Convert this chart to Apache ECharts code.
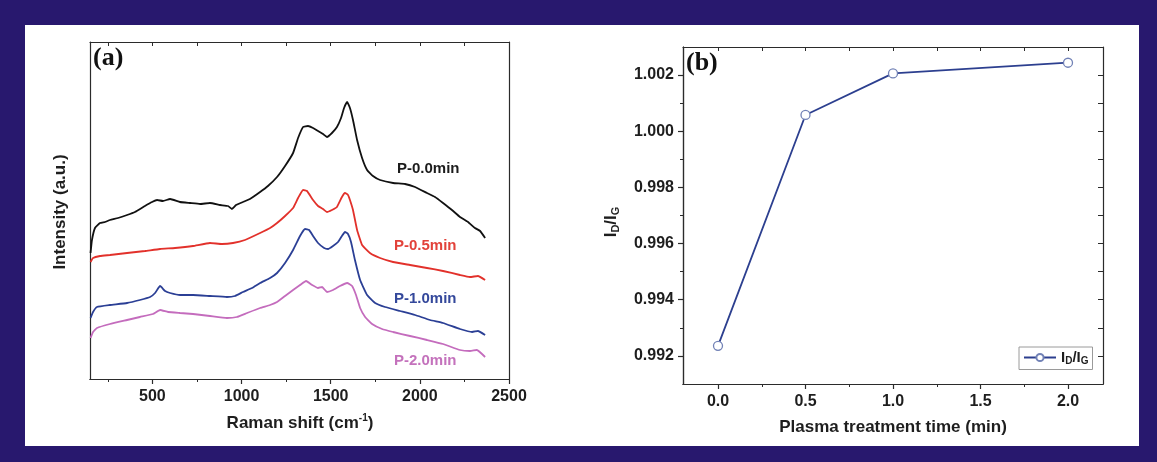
<!DOCTYPE html>
<html>
<head>
<meta charset="utf-8">
<script src="https://cdn.jsdelivr.net/npm/echarts@6/dist/echarts.min.js"></script>
<style>
  html, body { margin: 0; padding: 0; background: #28186e; }
  #chart { width: 1157px; height: 462px; }
</style>
</head>
<body>
<div id="chart"></div>
<script>
// ---- (a) Raman spectra: shift (cm-1) and intensity (a.u., stacked offsets) ----
const shift00 = [153,161,178,206,234,262,307,358,402,458,498,526,559,599,655,711,767,823,879,924,946,969,1008,1047,1104,1148,1199,1244,1289,1317,1345,1373,1401,1429,1457,1479,1507,1535,1558,1575,1592,1608,1625,1648,1676,1704,1737,1777,1850,1917,1973,2040,2085,2130,2180,2225,2270,2309,2338,2366];
const inten00 = [126,139,151,156,157,159,161,164,167,173,177,179,178,180,177,176,175,176,174,173,170,174,177,180,187,193,202,213,226,241,252,253,251,248,245,242,246,252,261,271,277,271,259,239,221,209,203,199,196,195,192,186,182,176,169,162,157,151,148,141];

const shift05 = [153,167,206,262,358,458,543,627,728,823,890,952,1019,1104,1160,1199,1244,1289,1317,1345,1367,1401,1429,1457,1479,1507,1535,1563,1580,1597,1608,1625,1648,1676,1720,1777,1850,1945,2040,2130,2225,2281,2326,2366];
const inten05 = [117,121,123,124,126,128,130,131,133,136,135,136,139,146,151,156,163,171,181,189,188,179,173,170,167,169,172,182,186,184,179,169,149,134,126,121,117,114,111,108,104,102,103,99];

const shift10 = [153,167,189,262,358,430,487,515,543,571,599,655,728,823,918,963,1008,1059,1104,1160,1199,1244,1289,1328,1356,1379,1401,1429,1463,1485,1513,1541,1563,1580,1597,1614,1636,1665,1704,1749,1805,1889,1973,2057,2130,2225,2293,2326,2366];
const inten10 = [61,67,72,74,76,79,82,86,93,88,86,84,84,83,82,83,87,91,96,101,106,116,129,143,150,149,143,136,131,130,133,137,143,147,145,137,119,99,84,76,72,68,64,59,56,50,47,48,44];

const shift20 = [153,167,189,262,358,430,503,543,588,655,728,823,918,974,1031,1104,1160,1199,1244,1289,1328,1362,1396,1429,1452,1479,1513,1552,1592,1620,1642,1665,1693,1732,1788,1850,1945,2040,2130,2225,2281,2320,2366];
const inten20 = [41,47,51,55,59,62,65,69,67,66,65,63,61,62,66,71,74,77,83,89,94,98,94,91,92,87,89,93,96,93,84,71,62,55,50,47,43,39,35,29,28,29,22];

const spectraNames = ['P-0.0min', 'P-0.5min', 'P-1.0min', 'P-2.0min'];
const ramanMajorTicks = [500, 1000, 1500, 2000, 2500];
const ramanMinorTicks = [250, 750, 1250, 1750, 2250];

// ---- (b) ID/IG ratio versus plasma treatment time ----
const treatTime = [0.0, 0.5, 1.0, 2.0];
const ratioDG = [0.99236, 1.00058, 1.00206, 1.00244];
const timeMajorTicks = [0, 0.5, 1.0, 1.5, 2.0];
const timeMinorTicks = [0.25, 0.75, 1.25, 1.75];
const ratioMajorTicks = [0.992, 0.994, 0.996, 0.998, 1.000, 1.002];
const ratioMinorTicks = [0.993, 0.995, 0.997, 0.999, 1.001];

const SANS = '"Liberation Sans", Arial, Helvetica, sans-serif';
const SERIF = '"Liberation Serif", "Times New Roman", serif';
const AXIS_COLOR = '#2b2b2b';
const lineColors = ['#111111', '#e2312b', '#2b3f95', '#c46cbd'];
const labelColors = ['#1c1c1c', '#e2423a', '#34489b', '#c472bc'];

function zip(xs, ys) { return xs.map((x, i) => [x, ys[i]]); }

const axisLineStyle = { show: true, onZero: false, lineStyle: { color: AXIS_COLOR, width: 1.2 } };
const labelStyle = { color: '#1e1e1e', fontFamily: SANS, fontWeight: 'bold', fontSize: 16 };

function tickAxis(extra) {
  return Object.assign({
    type: 'value',
    axisLine: axisLineStyle,
    splitLine: { show: false },
    axisLabel: { show: false },
    axisTick: { show: false }
  }, extra);
}

const chart = echarts.init(document.getElementById('chart'), null, { renderer: 'canvas' });

const spectraSeries = [
  zip(shift00, inten00), zip(shift05, inten05), zip(shift10, inten10), zip(shift20, inten20)
].map((d, i) => ({
  name: spectraNames[i],
  type: 'line',
  xAxisIndex: 0, yAxisIndex: 0,
  data: d,
  showSymbol: false,
  smooth: 0.12,
  lineStyle: { color: lineColors[i], width: 1.8 },
  silent: true,
  z: 5 - i
}));

const option = {
  backgroundColor: '#28186e',
  animation: false,
  grid: [
    { left: 90, top: 42, width: 419, height: 337 },
    { left: 683, top: 47, width: 420, height: 337 }
  ],
  xAxis: [
    // (a) bottom: labels + major ticks
    tickAxis({ gridIndex: 0, position: 'bottom', min: 150, max: 2500,
      axisLabel: Object.assign({ show: true, customValues: ramanMajorTicks, margin: 10,
        formatter: v => String(Math.round(v)) }, labelStyle),
      axisTick: { show: true, customValues: ramanMajorTicks, length: 5, lineStyle: { color: AXIS_COLOR, width: 1.2 } } }),
    // (a) bottom minor ticks
    tickAxis({ gridIndex: 0, position: 'bottom', min: 150, max: 2500,
      axisTick: { show: true, customValues: ramanMinorTicks, length: 3, lineStyle: { color: AXIS_COLOR, width: 1 } } }),
    // (a) top mirror
    tickAxis({ gridIndex: 0, position: 'top', min: 150, max: 2500,
      axisTick: { show: true, inside: true, customValues: ramanMajorTicks.concat(ramanMinorTicks), length: 4, lineStyle: { color: AXIS_COLOR, width: 1 } } }),
    // (b) bottom
    tickAxis({ gridIndex: 1, position: 'bottom', min: -0.2, max: 2.2,
      axisLabel: Object.assign({ show: true, customValues: timeMajorTicks, margin: 10,
        formatter: v => Number(v).toFixed(1) }, labelStyle),
      axisTick: { show: true, customValues: timeMajorTicks, length: 5, lineStyle: { color: AXIS_COLOR, width: 1.2 } } }),
    tickAxis({ gridIndex: 1, position: 'bottom', min: -0.2, max: 2.2,
      axisTick: { show: true, customValues: timeMinorTicks, length: 3, lineStyle: { color: AXIS_COLOR, width: 1 } } }),
    tickAxis({ gridIndex: 1, position: 'top', min: -0.2, max: 2.2,
      axisTick: { show: true, inside: true, customValues: timeMajorTicks.concat(timeMinorTicks), length: 4, lineStyle: { color: AXIS_COLOR, width: 1 } } })
  ],
  yAxis: [
    tickAxis({ gridIndex: 0, position: 'left', min: 0, max: 337 }),
    tickAxis({ gridIndex: 0, position: 'right', min: 0, max: 337 }),
    // (b) left: labels + major ticks
    tickAxis({ gridIndex: 1, position: 'left', min: 0.991, max: 1.003,
      axisLabel: Object.assign({ show: true, customValues: ratioMajorTicks, margin: 9,
        formatter: v => Number(v).toFixed(3) }, labelStyle),
      axisTick: { show: true, customValues: ratioMajorTicks, length: 5, lineStyle: { color: AXIS_COLOR, width: 1.2 } } }),
    tickAxis({ gridIndex: 1, position: 'left', min: 0.991, max: 1.003,
      axisTick: { show: true, customValues: ratioMinorTicks, length: 3, lineStyle: { color: AXIS_COLOR, width: 1 } } }),
    tickAxis({ gridIndex: 1, position: 'right', min: 0.991, max: 1.003,
      axisTick: { show: true, inside: true, customValues: ratioMajorTicks.concat(ratioMinorTicks), length: 5, lineStyle: { color: AXIS_COLOR, width: 1 } } })
  ],
  legend: {
    show: true,
    data: ['ratio'],
    left: 1019, top: 347,
    orient: 'horizontal',
    padding: [3, 4, 3, 4],
    itemWidth: 32, itemHeight: 9, itemGap: 4,
    borderColor: '#9a9a9a', borderWidth: 1, borderRadius: 0,
    backgroundColor: '#ffffff',
    selectedMode: false,
    formatter: () => '{m|I}{s|D}{m|/I}{s|G}',
    textStyle: {
      rich: {
        m: { fontFamily: SANS, fontWeight: 'bold', fontSize: 15, color: '#1e1e1e' },
        s: { fontFamily: SANS, fontWeight: 'bold', fontSize: 10, color: '#1e1e1e', verticalAlign: 'bottom', padding: [8, 0, 0, 0] }
      }
    }
  },
  series: spectraSeries.concat([{
    name: 'ratio',
    type: 'line',
    xAxisIndex: 3, yAxisIndex: 2,
    data: zip(treatTime, ratioDG),
    symbol: 'circle',
    symbolSize: 9,
    showSymbol: true,
    lineStyle: { color: '#2c3f8f', width: 1.8 },
    itemStyle: { color: '#ffffff', borderColor: '#7282b6', borderWidth: 1.3 },
    z: 6
  }]),
  graphic: [
    { type: 'rect', z: -100, silent: true, shape: { x: 25, y: 25, width: 1114, height: 421 }, style: { fill: '#ffffff' } },
    // panel tags
    { type: 'text', left: 93, top: 45, silent: true,
      style: { text: '(a)', fontFamily: SERIF, fontWeight: 'bold', fontSize: 26, fill: '#111' } },
    { type: 'text', left: 686, top: 50, silent: true,
      style: { text: '(b)', fontFamily: SERIF, fontWeight: 'bold', fontSize: 26, fill: '#111' } },
    // (a) axis titles
    { type: 'text', x: 300, y: 423, silent: true,
      style: { text: '{t|Raman shift (cm}{u|-1}{t|)}', align: 'center', verticalAlign: 'middle',
        rich: {
          t: { fontFamily: SANS, fontWeight: 'bold', fontSize: 17, fill: '#1e1e1e' },
          u: { fontFamily: SANS, fontWeight: 'bold', fontSize: 10, fill: '#1e1e1e', verticalAlign: 'top', padding: [0, 0, 9, 0] }
        } } },
    { type: 'text', x: 60, y: 212, rotation: Math.PI / 2, silent: true,
      style: { text: 'Intensity (a.u.)', align: 'center', verticalAlign: 'middle',
        fontFamily: SANS, fontWeight: 'bold', fontSize: 17, fill: '#1e1e1e' } },
    // (a) curve labels
    { type: 'text', left: 397, top: 161, silent: true,
      style: { text: spectraNames[0], fontFamily: SANS, fontWeight: 'bold', fontSize: 15, fill: labelColors[0] } },
    { type: 'text', left: 394, top: 238, silent: true,
      style: { text: spectraNames[1], fontFamily: SANS, fontWeight: 'bold', fontSize: 15, fill: labelColors[1] } },
    { type: 'text', left: 394, top: 291, silent: true,
      style: { text: spectraNames[2], fontFamily: SANS, fontWeight: 'bold', fontSize: 15, fill: labelColors[2] } },
    { type: 'text', left: 394, top: 353, silent: true,
      style: { text: spectraNames[3], fontFamily: SANS, fontWeight: 'bold', fontSize: 15, fill: labelColors[3] } },
    // (b) axis titles
    { type: 'text', x: 893, y: 427, silent: true,
      style: { text: 'Plasma treatment time (min)', align: 'center', verticalAlign: 'middle',
        fontFamily: SANS, fontWeight: 'bold', fontSize: 17, fill: '#1e1e1e' } },
    { type: 'text', x: 611, y: 222, rotation: Math.PI / 2, silent: true,
      style: { text: '{m|I}{s|D}{m|/I}{s|G}', align: 'center', verticalAlign: 'middle',
        rich: {
          m: { fontFamily: SANS, fontWeight: 'bold', fontSize: 17, fill: '#1e1e1e' },
          s: { fontFamily: SANS, fontWeight: 'bold', fontSize: 11, fill: '#1e1e1e', verticalAlign: 'bottom', padding: [9, 0, 0, 0] }
        } } }
  ]
};

chart.setOption(option);
</script>
</body>
</html>
